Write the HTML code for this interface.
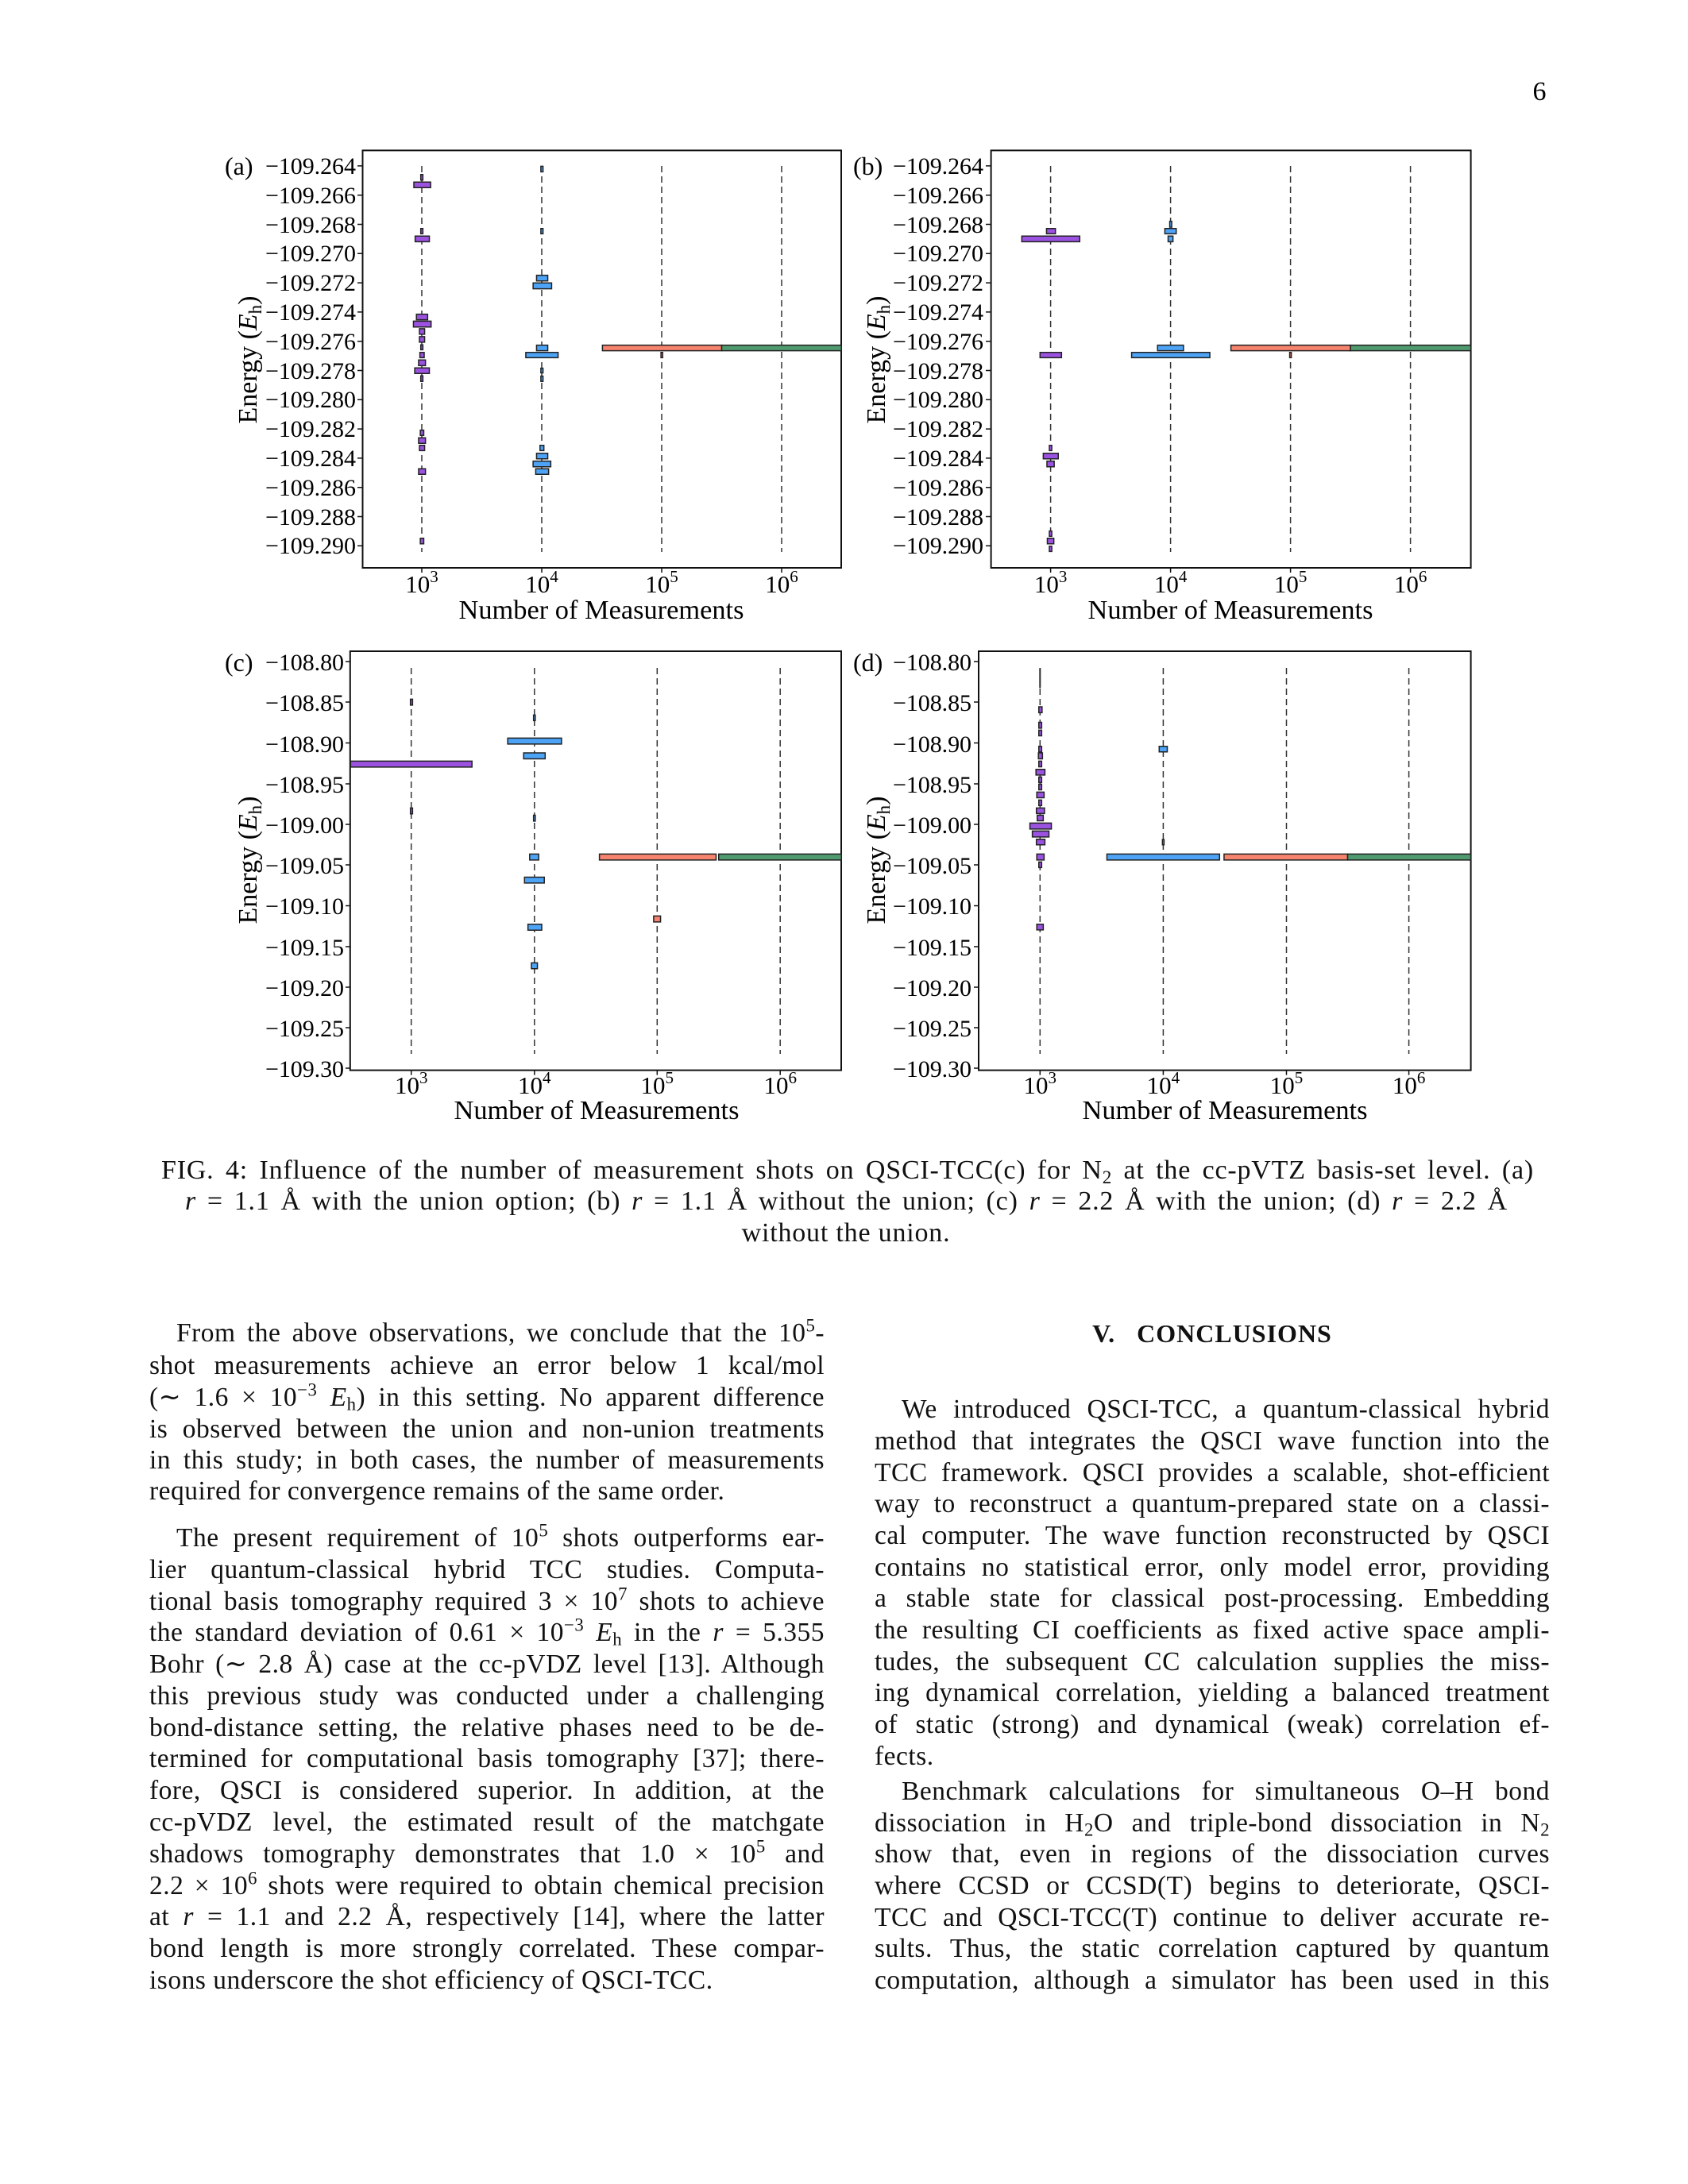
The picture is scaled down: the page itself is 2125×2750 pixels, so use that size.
<!DOCTYPE html>
<html><head><meta charset="utf-8"><style>
html,body{margin:0;padding:0;background:#fff;}
#pg{position:relative;width:2125px;height:2750px;overflow:hidden;background:#fff;font-family:"Liberation Serif",serif;color:#111;}
svg{position:absolute;left:0;top:0;}
.l{position:absolute;font-size:33.5px;letter-spacing:0.5px;line-height:40px;height:40px;overflow:hidden;text-align:justify;text-align-last:justify;white-space:normal;}
.ll{text-align:left;text-align-last:left;}
.c{position:absolute;font-size:34px;letter-spacing:0.8px;line-height:40px;height:40px;overflow:hidden;text-align:justify;text-align-last:justify;}
sup{font-size:0.68em;line-height:0;vertical-align:0.55em;}
sub{font-size:0.68em;line-height:0;vertical-align:-0.25em;}
i{font-style:italic;}
</style></head><body><div id="pg">
<svg width="2125" height="2750" viewBox="0 0 2125 2750" xmlns="http://www.w3.org/2000/svg" font-family="Liberation Serif, serif">
<text x="1938" y="126" font-size="34" text-anchor="middle">6</text>
<g fill="none" stroke="#111" stroke-width="2">
<rect x="456.5" y="189.4" width="602.5" height="525.6"/>
<rect x="1247.6" y="189.4" width="604" height="525.6"/>
<rect x="440.8" y="820" width="618.2" height="527.6"/>
<rect x="1232" y="820" width="619.6" height="527.6"/>
</g>
<g stroke="#333" stroke-width="1.5" stroke-dasharray="8,5">
<line x1="531" y1="209" x2="531" y2="695"/><line x1="682" y1="209" x2="682" y2="695"/><line x1="833" y1="209" x2="833" y2="695"/><line x1="984" y1="209" x2="984" y2="695"/>
<line x1="1322.6" y1="209" x2="1322.6" y2="695"/><line x1="1473.6" y1="209" x2="1473.6" y2="695"/><line x1="1624.6" y1="209" x2="1624.6" y2="695"/><line x1="1775.6" y1="209" x2="1775.6" y2="695"/>
<line x1="517.7" y1="841" x2="517.7" y2="1327"/><line x1="672.8" y1="841" x2="672.8" y2="1327"/><line x1="827.3" y1="841" x2="827.3" y2="1327"/><line x1="982.2" y1="841" x2="982.2" y2="1327"/>
<line x1="1309.3" y1="841" x2="1309.3" y2="1327"/><line x1="1464.4" y1="841" x2="1464.4" y2="1327"/><line x1="1619.5" y1="841" x2="1619.5" y2="1327"/><line x1="1773.6" y1="841" x2="1773.6" y2="1327"/>
</g>
<g transform="translate(250 150) scale(0.5420 0.4149)" stroke="#222" stroke-width="1.5">
<g fill="#9b52e0">
<rect x="516" y="168" width="5" height="17" vector-effect="non-scaling-stroke"/>
<rect x="500" y="191" width="39" height="17" vector-effect="non-scaling-stroke"/>
<rect x="516" y="332" width="5" height="16" vector-effect="non-scaling-stroke"/>
<rect x="503" y="355" width="33" height="17" vector-effect="non-scaling-stroke"/>
<rect x="506" y="592" width="26" height="17" vector-effect="non-scaling-stroke"/>
<rect x="499" y="613" width="41" height="18" vector-effect="non-scaling-stroke"/>
<rect x="513" y="636" width="12" height="17" vector-effect="non-scaling-stroke"/>
<rect x="513" y="660" width="12" height="17" vector-effect="non-scaling-stroke"/>
<rect x="516" y="685" width="5" height="15" vector-effect="non-scaling-stroke"/>
<rect x="514" y="708" width="10" height="16" vector-effect="non-scaling-stroke"/>
<rect x="511" y="731" width="16" height="17" vector-effect="non-scaling-stroke"/>
<rect x="502" y="755" width="34" height="17" vector-effect="non-scaling-stroke"/>
<rect x="516" y="779" width="5" height="17" vector-effect="non-scaling-stroke"/>
<rect x="515" y="944" width="8" height="16" vector-effect="non-scaling-stroke"/>
<rect x="511" y="967" width="16" height="17" vector-effect="non-scaling-stroke"/>
<rect x="513" y="990" width="12" height="16" vector-effect="non-scaling-stroke"/>
<rect x="511" y="1061" width="16" height="17" vector-effect="non-scaling-stroke"/>
<rect x="515" y="1272" width="8" height="17" vector-effect="non-scaling-stroke"/>
</g>
<g fill="#4da3f5">
<rect x="795" y="143" width="5" height="17" vector-effect="non-scaling-stroke"/>
<rect x="795" y="332" width="5" height="16" vector-effect="non-scaling-stroke"/>
<rect x="785" y="474" width="26" height="17" vector-effect="non-scaling-stroke"/>
<rect x="777" y="497" width="43" height="18" vector-effect="non-scaling-stroke"/>
<rect x="785" y="686" width="26" height="17" vector-effect="non-scaling-stroke"/>
<rect x="760" y="708" width="75" height="16" vector-effect="non-scaling-stroke"/>
<rect x="795" y="756" width="5" height="14" vector-effect="non-scaling-stroke"/>
<rect x="795" y="780" width="5" height="16" vector-effect="non-scaling-stroke"/>
<rect x="793" y="990" width="9" height="16" vector-effect="non-scaling-stroke"/>
<rect x="785" y="1014" width="26" height="17" vector-effect="non-scaling-stroke"/>
<rect x="777" y="1038" width="41" height="17" vector-effect="non-scaling-stroke"/>
<rect x="783" y="1061" width="30" height="17" vector-effect="non-scaling-stroke"/>
</g>
<rect x="938" y="686" width="277" height="17" fill="#f6836e" vector-effect="non-scaling-stroke"/>
<rect x="1074" y="708" width="4" height="16" fill="#f6836e" vector-effect="non-scaling-stroke"/>
<rect x="1215" y="686" width="278" height="17" fill="#4f9a6e" vector-effect="non-scaling-stroke"/>
</g>
<g transform="translate(1070 150) scale(0.5102 0.4149)" stroke="#222" stroke-width="1.5">
<g fill="#9b52e0">
<rect x="485" y="332" width="22" height="16" vector-effect="non-scaling-stroke"/>
<rect x="424" y="355" width="143" height="17" vector-effect="non-scaling-stroke"/>
<rect x="469" y="708" width="53" height="16" vector-effect="non-scaling-stroke"/>
<rect x="492" y="990" width="6" height="16" vector-effect="non-scaling-stroke"/>
<rect x="477" y="1014" width="37" height="17" vector-effect="non-scaling-stroke"/>
<rect x="486" y="1038" width="18" height="17" vector-effect="non-scaling-stroke"/>
<rect x="492" y="1250" width="6" height="16" vector-effect="non-scaling-stroke"/>
<rect x="487" y="1272" width="16" height="17" vector-effect="non-scaling-stroke"/>
<rect x="492" y="1296" width="6" height="16" vector-effect="non-scaling-stroke"/>
</g>
<g fill="#4da3f5">
<rect x="789" y="310" width="5" height="18" vector-effect="non-scaling-stroke"/>
<rect x="777" y="332" width="28" height="16" vector-effect="non-scaling-stroke"/>
<rect x="785" y="355" width="12" height="17" vector-effect="non-scaling-stroke"/>
<rect x="759" y="686" width="64" height="17" vector-effect="non-scaling-stroke"/>
<rect x="695" y="708" width="193" height="16" vector-effect="non-scaling-stroke"/>
</g>
<rect x="940" y="686" width="295" height="17" fill="#f6836e" vector-effect="non-scaling-stroke"/>
<rect x="1085" y="708" width="4" height="16" fill="#f6836e" vector-effect="non-scaling-stroke"/>
<rect x="1235" y="686" width="297" height="17" fill="#4f9a6e" vector-effect="non-scaling-stroke"/>
</g>
<g transform="translate(250 780) scale(0.5420 0.4149)" stroke="#222" stroke-width="1.5">
<g fill="#9b52e0">
<rect x="492" y="242" width="5" height="18" vector-effect="non-scaling-stroke"/>
<rect x="353" y="430" width="282" height="18" vector-effect="non-scaling-stroke"/>
<rect x="492" y="572" width="5" height="18" vector-effect="non-scaling-stroke"/>
</g>
<g fill="#4da3f5">
<rect x="778" y="290" width="4" height="17" vector-effect="non-scaling-stroke"/>
<rect x="718" y="360" width="125" height="18" vector-effect="non-scaling-stroke"/>
<rect x="755" y="405" width="50" height="18" vector-effect="non-scaling-stroke"/>
<rect x="778" y="594" width="4" height="18" vector-effect="non-scaling-stroke"/>
<rect x="769" y="712" width="21" height="18" vector-effect="non-scaling-stroke"/>
<rect x="757" y="782" width="46" height="18" vector-effect="non-scaling-stroke"/>
<rect x="765" y="925" width="32" height="18" vector-effect="non-scaling-stroke"/>
<rect x="773" y="1042" width="14" height="18" vector-effect="non-scaling-stroke"/>
</g>
<rect x="1057" y="900" width="16" height="18" fill="#f6836e" vector-effect="non-scaling-stroke"/>
<rect x="931" y="712" width="271" height="18" fill="#f6836e" vector-effect="non-scaling-stroke"/>
<rect x="1208" y="712" width="285" height="18" fill="#4f9a6e" vector-effect="non-scaling-stroke"/>
</g>
<g transform="translate(1070 780) scale(0.5102 0.4149)" stroke="#222" stroke-width="1.5">
<rect x="467" y="148" width="4" height="60" fill="#333" stroke="none"/>
<g fill="#9b52e0">
<rect x="466" y="265" width="8" height="18" vector-effect="non-scaling-stroke"/>
<rect x="466" y="312" width="7" height="18" vector-effect="non-scaling-stroke"/>
<rect x="466" y="336" width="7" height="17" vector-effect="non-scaling-stroke"/>
<rect x="466" y="385" width="7" height="17" vector-effect="non-scaling-stroke"/>
<rect x="465" y="405" width="10" height="18" vector-effect="non-scaling-stroke"/>
<rect x="466" y="430" width="7" height="17" vector-effect="non-scaling-stroke"/>
<rect x="459" y="455" width="22" height="17" vector-effect="non-scaling-stroke"/>
<rect x="466" y="478" width="7" height="17" vector-effect="non-scaling-stroke"/>
<rect x="466" y="500" width="7" height="17" vector-effect="non-scaling-stroke"/>
<rect x="461" y="524" width="18" height="17" vector-effect="non-scaling-stroke"/>
<rect x="466" y="548" width="7" height="17" vector-effect="non-scaling-stroke"/>
<rect x="460" y="572" width="20" height="17" vector-effect="non-scaling-stroke"/>
<rect x="462" y="594" width="15" height="17" vector-effect="non-scaling-stroke"/>
<rect x="444" y="618" width="53" height="18" vector-effect="non-scaling-stroke"/>
<rect x="450" y="642" width="41" height="18" vector-effect="non-scaling-stroke"/>
<rect x="460" y="667" width="21" height="17" vector-effect="non-scaling-stroke"/>
<rect x="461" y="712" width="18" height="18" vector-effect="non-scaling-stroke"/>
<rect x="466" y="736" width="7" height="17" vector-effect="non-scaling-stroke"/>
<rect x="461" y="925" width="16" height="17" vector-effect="non-scaling-stroke"/>
</g>
<g fill="#4da3f5">
<rect x="763" y="385" width="20" height="17" vector-effect="non-scaling-stroke"/>
<rect x="771" y="668" width="4" height="16" vector-effect="non-scaling-stroke"/>
<rect x="634" y="712" width="278" height="18" vector-effect="non-scaling-stroke"/>
</g>
<rect x="923" y="712" width="305" height="18" fill="#f6836e" vector-effect="non-scaling-stroke"/>
<rect x="1228" y="712" width="304" height="18" fill="#4f9a6e" vector-effect="non-scaling-stroke"/>
</g>

<g font-size="30" text-anchor="end">
<g textLength="114">
<text x="448" y="219" textLength="114">−109.264</text><text x="448" y="256" textLength="114">−109.266</text><text x="448" y="293" textLength="114">−109.268</text><text x="448" y="329" textLength="114">−109.270</text><text x="448" y="366" textLength="114">−109.272</text><text x="448" y="403" textLength="114">−109.274</text><text x="448" y="440" textLength="114">−109.276</text><text x="448" y="477" textLength="114">−109.278</text><text x="448" y="513" textLength="114">−109.280</text><text x="448" y="550" textLength="114">−109.282</text><text x="448" y="587" textLength="114">−109.284</text><text x="448" y="624" textLength="114">−109.286</text><text x="448" y="661" textLength="114">−109.288</text><text x="448" y="697" textLength="114">−109.290</text>
<text x="1238" y="219" textLength="114">−109.264</text><text x="1238" y="256" textLength="114">−109.266</text><text x="1238" y="293" textLength="114">−109.268</text><text x="1238" y="329" textLength="114">−109.270</text><text x="1238" y="366" textLength="114">−109.272</text><text x="1238" y="403" textLength="114">−109.274</text><text x="1238" y="440" textLength="114">−109.276</text><text x="1238" y="477" textLength="114">−109.278</text><text x="1238" y="513" textLength="114">−109.280</text><text x="1238" y="550" textLength="114">−109.282</text><text x="1238" y="587" textLength="114">−109.284</text><text x="1238" y="624" textLength="114">−109.286</text><text x="1238" y="661" textLength="114">−109.288</text><text x="1238" y="697" textLength="114">−109.290</text>
</g>
<text x="433" y="844" textLength="99">−108.80</text><text x="433" y="895" textLength="99">−108.85</text><text x="433" y="947" textLength="99">−108.90</text><text x="433" y="998" textLength="99">−108.95</text><text x="433" y="1049" textLength="99">−109.00</text><text x="433" y="1100" textLength="99">−109.05</text><text x="433" y="1151" textLength="99">−109.10</text><text x="433" y="1203" textLength="99">−109.15</text><text x="433" y="1254" textLength="99">−109.20</text><text x="433" y="1305" textLength="99">−109.25</text><text x="433" y="1356" textLength="99">−109.30</text>
<text x="1223" y="844" textLength="99">−108.80</text><text x="1223" y="895" textLength="99">−108.85</text><text x="1223" y="947" textLength="99">−108.90</text><text x="1223" y="998" textLength="99">−108.95</text><text x="1223" y="1049" textLength="99">−109.00</text><text x="1223" y="1100" textLength="99">−109.05</text><text x="1223" y="1151" textLength="99">−109.10</text><text x="1223" y="1203" textLength="99">−109.15</text><text x="1223" y="1254" textLength="99">−109.20</text><text x="1223" y="1305" textLength="99">−109.25</text><text x="1223" y="1356" textLength="99">−109.30</text>
</g>
<g font-size="32">
<text x="283" y="220">(a)</text><text x="1074" y="220">(b)</text><text x="283" y="845">(c)</text><text x="1074" y="845">(d)</text>
</g>
<g stroke="#111" stroke-width="1.5">
<path d="M450 208.9h6M450 245.7h6M450 282.5h6M450 319.3h6M450 356.1h6M450 392.9h6M450 429.7h6M450 466.5h6M450 503.3h6M450 540.1h6M450 576.9h6M450 613.7h6M450 650.5h6M450 687.3h6"/>
<path d="M1241 208.9h6M1241 245.7h6M1241 282.5h6M1241 319.3h6M1241 356.1h6M1241 392.9h6M1241 429.7h6M1241 466.5h6M1241 503.3h6M1241 540.1h6M1241 576.9h6M1241 613.7h6M1241 650.5h6M1241 687.3h6"/>
<path d="M435 833h6M435 884h6M435 935.5h6M435 987h6M435 1038h6M435 1089h6M435 1140.5h6M435 1192h6M435 1243h6M435 1294h6M435 1345h6"/>
<path d="M1226 833h6M1226 884h6M1226 935.5h6M1226 987h6M1226 1038h6M1226 1089h6M1226 1140.5h6M1226 1192h6M1226 1243h6M1226 1294h6M1226 1345h6"/>
<path d="M531 715v6M682 715v6M833 715v6M984 715v6M1322.6 715v6M1473.6 715v6M1624.6 715v6M1775.6 715v6"/>
<path d="M517.7 1347.6v6M672.8 1347.6v6M827.3 1347.6v6M982.2 1347.6v6M1309.3 1347.6v6M1464.4 1347.6v6M1619.5 1347.6v6M1773.6 1347.6v6"/>
</g>
<g font-size="31" text-anchor="middle">
<text x="531" y="746">10<tspan dy="-13" font-size="21">3</tspan></text><text x="682" y="746">10<tspan dy="-13" font-size="21">4</tspan></text><text x="833" y="746">10<tspan dy="-13" font-size="21">5</tspan></text><text x="984" y="746">10<tspan dy="-13" font-size="21">6</tspan></text>
<text x="1322.6" y="746">10<tspan dy="-13" font-size="21">3</tspan></text><text x="1473.6" y="746">10<tspan dy="-13" font-size="21">4</tspan></text><text x="1624.6" y="746">10<tspan dy="-13" font-size="21">5</tspan></text><text x="1775.6" y="746">10<tspan dy="-13" font-size="21">6</tspan></text>
<text x="517.7" y="1377">10<tspan dy="-13" font-size="21">3</tspan></text><text x="672.8" y="1377">10<tspan dy="-13" font-size="21">4</tspan></text><text x="827.3" y="1377">10<tspan dy="-13" font-size="21">5</tspan></text><text x="982.2" y="1377">10<tspan dy="-13" font-size="21">6</tspan></text>
<text x="1309.3" y="1377">10<tspan dy="-13" font-size="21">3</tspan></text><text x="1464.4" y="1377">10<tspan dy="-13" font-size="21">4</tspan></text><text x="1619.5" y="1377">10<tspan dy="-13" font-size="21">5</tspan></text><text x="1773.6" y="1377">10<tspan dy="-13" font-size="21">6</tspan></text>
</g>
<g font-size="34" text-anchor="middle">
<text x="757" y="779" textLength="359" lengthAdjust="spacingAndGlyphs">Number of Measurements</text>
<text x="1549" y="779" textLength="359" lengthAdjust="spacingAndGlyphs">Number of Measurements</text>
<text x="751" y="1409" textLength="359" lengthAdjust="spacingAndGlyphs">Number of Measurements</text>
<text x="1542" y="1409" textLength="359" lengthAdjust="spacingAndGlyphs">Number of Measurements</text>
</g>
<g font-size="34" text-anchor="middle">
<text transform="translate(323 453) rotate(-90)">Energy (<tspan font-style="italic">E</tspan><tspan font-size="23" dy="6">h</tspan><tspan dy="-6">)</tspan></text>
<text transform="translate(1114 453) rotate(-90)">Energy (<tspan font-style="italic">E</tspan><tspan font-size="23" dy="6">h</tspan><tspan dy="-6">)</tspan></text>
<text transform="translate(323 1083) rotate(-90)">Energy (<tspan font-style="italic">E</tspan><tspan font-size="23" dy="6">h</tspan><tspan dy="-6">)</tspan></text>
<text transform="translate(1114 1083) rotate(-90)">Energy (<tspan font-style="italic">E</tspan><tspan font-size="23" dy="6">h</tspan><tspan dy="-6">)</tspan></text>
</g>
</svg>

<div class="c" style="left:203px;width:1728px;top:1454px;">FIG. 4: Influence of the number of measurement shots on QSCI-TCC(c) for N<sub>2</sub> at the cc-pVTZ basis-set level. (a)</div>
<div class="c" style="left:233px;width:1665px;top:1493px;"><i>r</i> = 1.1 Å with the union option; (b) <i>r</i> = 1.1 Å without the union; (c) <i>r</i> = 2.2 Å with the union; (d) <i>r</i> = 2.2 Å</div>
<div class="c" style="left:765px;width:600px;top:1533px;text-align:center;text-align-last:center;">without the union.</div>

<div class="l" style="left:222px;width:816px;top:1659px;">From the above observations, we conclude that the 10<sup>5</sup>-</div>
<div class="l" style="left:188px;width:850px;top:1700px;">shot measurements achieve an error below 1 kcal/mol</div>
<div class="l" style="left:188px;width:850px;top:1740px;">(∼ 1.6 × 10<sup>−3</sup> <i>E</i><sub>h</sub>) in this setting. No apparent difference</div>
<div class="l" style="left:188px;width:850px;top:1780px;">is observed between the union and non-union treatments</div>
<div class="l" style="left:188px;width:850px;top:1819px;">in this study; in both cases, the number of measurements</div>
<div class="l ll" style="left:188px;width:850px;top:1858px;">required for convergence remains of the same order.</div>

<div class="l" style="left:222px;width:816px;top:1917px;">The present requirement of 10<sup>5</sup> shots outperforms ear-</div>
<div class="l" style="left:188px;width:850px;top:1957px;">lier quantum-classical hybrid TCC studies. Computa-</div>
<div class="l" style="left:188px;width:850px;top:1997px;">tional basis tomography required 3 × 10<sup>7</sup> shots to achieve</div>
<div class="l" style="left:188px;width:850px;top:2036px;">the standard deviation of 0.61 × 10<sup>−3</sup> <i>E</i><sub>h</sub> in the <i>r</i> = 5.355</div>
<div class="l" style="left:188px;width:850px;top:2076px;">Bohr (∼ 2.8 Å) case at the cc-pVDZ level [13]. Although</div>
<div class="l" style="left:188px;width:850px;top:2116px;">this previous study was conducted under a challenging</div>
<div class="l" style="left:188px;width:850px;top:2156px;">bond-distance setting, the relative phases need to be de-</div>
<div class="l" style="left:188px;width:850px;top:2195px;">termined for computational basis tomography [37]; there-</div>
<div class="l" style="left:188px;width:850px;top:2235px;">fore, QSCI is considered superior. In addition, at the</div>
<div class="l" style="left:188px;width:850px;top:2275px;">cc-pVDZ level, the estimated result of the matchgate</div>
<div class="l" style="left:188px;width:850px;top:2315px;">shadows tomography demonstrates that 1.0 × 10<sup>5</sup> and</div>
<div class="l" style="left:188px;width:850px;top:2355px;">2.2 × 10<sup>6</sup> shots were required to obtain chemical precision</div>
<div class="l" style="left:188px;width:850px;top:2394px;">at <i>r</i> = 1.1 and 2.2 Å, respectively [14], where the latter</div>
<div class="l" style="left:188px;width:850px;top:2434px;">bond length is more strongly correlated. These compar-</div>
<div class="l ll" style="left:188px;width:850px;top:2474px;">isons underscore the shot efficiency of QSCI-TCC.</div>

<div class="l" style="left:1101px;width:850px;top:1659px;text-align:center;text-align-last:center;font-weight:bold;font-size:32px;letter-spacing:1px;">V.&nbsp;&nbsp;&nbsp;CONCLUSIONS</div>

<div class="l" style="left:1135px;width:816px;top:1755px;">We introduced QSCI-TCC, a quantum-classical hybrid</div>
<div class="l" style="left:1101px;width:850px;top:1795px;">method that integrates the QSCI wave function into the</div>
<div class="l" style="left:1101px;width:850px;top:1835px;">TCC framework. QSCI provides a scalable, shot-efficient</div>
<div class="l" style="left:1101px;width:850px;top:1874px;">way to reconstruct a quantum-prepared state on a classi-</div>
<div class="l" style="left:1101px;width:850px;top:1914px;">cal computer. The wave function reconstructed by QSCI</div>
<div class="l" style="left:1101px;width:850px;top:1954px;">contains no statistical error, only model error, providing</div>
<div class="l" style="left:1101px;width:850px;top:1993px;">a stable state for classical post-processing. Embedding</div>
<div class="l" style="left:1101px;width:850px;top:2033px;">the resulting CI coefficients as fixed active space ampli-</div>
<div class="l" style="left:1101px;width:850px;top:2073px;">tudes, the subsequent CC calculation supplies the miss-</div>
<div class="l" style="left:1101px;width:850px;top:2112px;">ing dynamical correlation, yielding a balanced treatment</div>
<div class="l" style="left:1101px;width:850px;top:2152px;">of static (strong) and dynamical (weak) correlation ef-</div>
<div class="l ll" style="left:1101px;width:850px;top:2192px;">fects.</div>

<div class="l" style="left:1135px;width:816px;top:2236px;">Benchmark calculations for simultaneous O–H bond</div>
<div class="l" style="left:1101px;width:850px;top:2276px;">dissociation in H<sub>2</sub>O and triple-bond dissociation in N<sub>2</sub></div>
<div class="l" style="left:1101px;width:850px;top:2315px;">show that, even in regions of the dissociation curves</div>
<div class="l" style="left:1101px;width:850px;top:2355px;">where CCSD or CCSD(T) begins to deteriorate, QSCI-</div>
<div class="l" style="left:1101px;width:850px;top:2395px;">TCC and QSCI-TCC(T) continue to deliver accurate re-</div>
<div class="l" style="left:1101px;width:850px;top:2434px;">sults. Thus, the static correlation captured by quantum</div>
<div class="l" style="left:1101px;width:850px;top:2474px;">computation, although a simulator has been used in this</div>
</div></body></html>
